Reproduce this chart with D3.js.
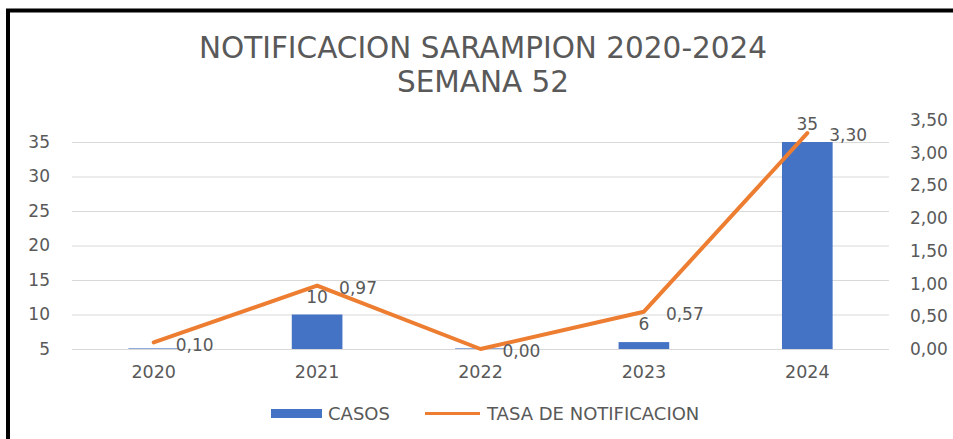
<!DOCTYPE html>
<html><head><meta charset="utf-8">
<script src="https://cdn.jsdelivr.net/npm/d3@7"></script>
<style>
html,body{margin:0;padding:0;background:#fff;}
svg{display:block;font-family:"DejaVu Sans",sans-serif;}
</style></head>
<body>
<svg id="chart" width="953" height="439"></svg>
<script>
const years = ["2020","2021","2022","2023","2024"];
const casos = [1, 10, 0, 6, 35];
const tasa = [0.10, 0.97, 0.00, 0.57, 3.30];
const leftTicks = [5, 10, 15, 20, 25, 30, 35];
const rightTicks = [0, 0.5, 1, 1.5, 2, 2.5, 3, 3.5];
const titleLines = ["NOTIFICACION SARAMPION 2020-2024", "SEMANA 52"];
const legendLabels = ["CASOS", "TASA DE NOTIFICACION"];

const svg = d3.select("#chart");
const textColor = "#595959";
const barColor = "#4472C4";
const lineColor = "#ED7D31";
const FONT = "'DejaVu Sans',sans-serif";
const fmt = v => d3.format(".2f")(v).replace(".", ",");

// frame
svg.append("path").attr("d","M8,439 L8,10.5 L953,10.5")
  .attr("fill","none").attr("stroke","#000").attr("stroke-width",4);

const x = d3.scaleBand().domain(years).range([72, 889]).paddingInner(0.69).paddingOuter(0.345);
const yL = d3.scaleLinear().domain([5, 38.19]).range([349, 120]);
const yR = d3.scaleLinear().domain([0, 3.5]).range([349, 120]);

// gridlines
const gg = svg.append("g").attr("transform","translate(72,0)")
  .call(d3.axisLeft(yL).tickValues(leftTicks).tickSize(-(889-72)).tickFormat(""));
gg.select(".domain").remove();
gg.selectAll("line").attr("stroke","#d9d9d9").attr("stroke-width",1);

// left axis labels
const la = svg.append("g").attr("transform","translate(50,0)")
  .call(d3.axisLeft(yL).tickValues(leftTicks).tickSize(0).tickPadding(0));
la.select(".domain").remove();
la.selectAll("text").attr("fill",textColor).style("font-size","17px").style("font-family",FONT);

// right axis labels
const ra = svg.append("g").attr("transform","translate(910,0)")
  .call(d3.axisRight(yR).tickValues(rightTicks).tickSize(0).tickPadding(0).tickFormat(fmt));
ra.select(".domain").remove();
ra.selectAll("text").attr("fill",textColor).style("font-size","17px").style("font-family",FONT);

// x axis labels
const xa = svg.append("g").attr("transform","translate(0,364)")
  .call(d3.axisBottom(x).tickSize(0).tickPadding(0));
xa.select(".domain").remove();
xa.selectAll("text").attr("fill",textColor).style("font-size","17.5px").attr("dy","0.82em").style("font-family",FONT);

// bars
const base = yL(5);
svg.append("g").selectAll("rect").data(years).join("rect")
  .attr("x", d => x(d))
  .attr("width", x.bandwidth())
  .attr("y", (d,i) => Math.min(yL(Math.max(casos[i],5)), base-1))
  .attr("height", (d,i) => Math.max(1, base - yL(Math.max(casos[i],5))))
  .attr("fill", barColor)
  .attr("opacity", (d,i) => casos[i] > 5 ? 1 : 0.6);

// bar labels (only values within axis range)
svg.append("g").selectAll("text").data(years.filter((d,i)=>casos[i] >= 5)).join("text")
  .attr("x", d => x(d) + x.bandwidth()/2)
  .attr("y", d => yL(casos[years.indexOf(d)]) - 12)
  .attr("text-anchor","middle")
  .attr("fill",textColor).style("font-size","17px")
  .text(d => casos[years.indexOf(d)]);

// line
const line = d3.line().x((d,i)=>x(years[i]) + x.bandwidth()/2).y(d=>yR(d));
svg.append("path").datum(tasa).attr("d", line)
  .attr("fill","none").attr("stroke",lineColor).attr("stroke-width",4)
  .attr("stroke-linejoin","round").attr("stroke-linecap","round");

// line labels
svg.append("g").selectAll("text").data(tasa).join("text")
  .attr("x", (d,i)=> x(years[i]) + x.bandwidth()/2 + 22)
  .attr("y", d => yR(d) + 2)
  .attr("dy","0.36em")
  .attr("fill",textColor).style("font-size","17px")
  .text(d => fmt(d));

// title
svg.append("g").selectAll("text").data(titleLines).join("text")
  .attr("x", 483).attr("y", (d,i)=> 57.5 + i*34)
  .attr("text-anchor","middle").attr("fill",textColor)
  .style("font-size","29.5px")
  .text(d=>d);

// legend
const lg = svg.append("g");
lg.append("rect").attr("x",271).attr("y",409).attr("width",51).attr("height",9).attr("fill",barColor);
lg.append("text").attr("x",328).attr("y",413.5).attr("dy","0.36em").attr("fill",textColor).style("font-size","18px").text(legendLabels[0]);
lg.append("line").attr("x1",425).attr("x2",480).attr("y1",413.5).attr("y2",413.5).attr("stroke",lineColor).attr("stroke-width",3);
lg.append("text").attr("x",487).attr("y",413.5).attr("dy","0.36em").attr("fill",textColor).style("font-size","18px").text(legendLabels[1]);
</script>
</body></html>
